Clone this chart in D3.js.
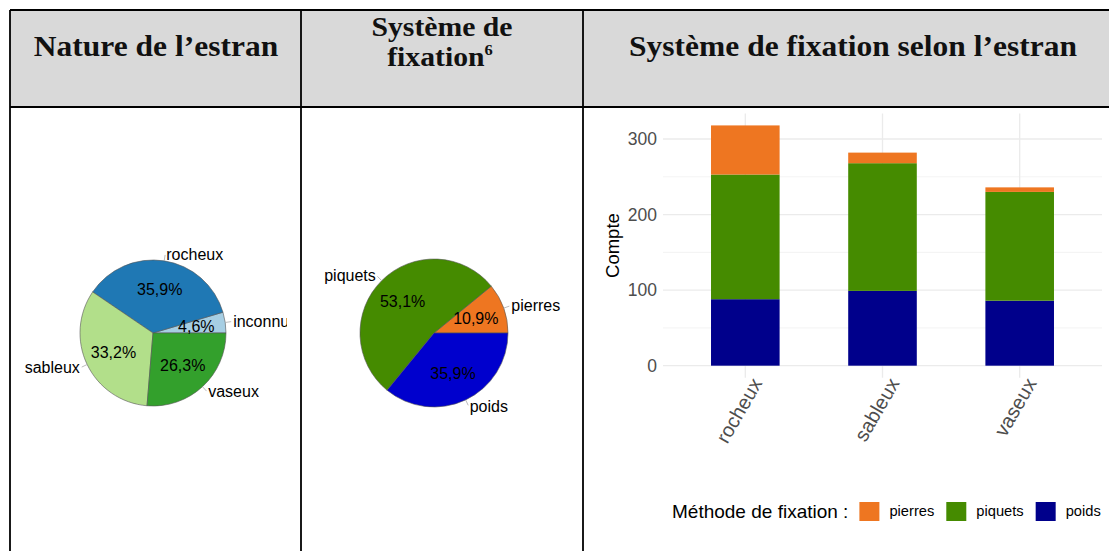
<!DOCTYPE html>
<html>
<head>
<meta charset="utf-8">
<script src="https://cdn.jsdelivr.net/npm/d3@7"></script>
<style>
  html, body { margin: 0; padding: 0; background: #ffffff; }
  svg { display: block; }
</style>
</head>
<body>
<svg id="chart" width="1109" height="551"></svg>
<script>
// ---------- data ----------
const headerTitles = ["Nature de l\u2019estran", "Syst\u00e8me de", "fixation", "Syst\u00e8me de fixation selon l\u2019estran"];
const estranCats = ["inconnu", "rocheux", "sableux", "vaseux"];
const estranPct = [4.6, 35.9, 33.2, 26.3];
const fixCats = ["pierres", "piquets", "poids"];
const fixPct = [10.9, 53.1, 35.9];
const barCats = ["rocheux", "sableux", "vaseux"];
const pierresCounts = [65, 14, 6];
const piquetsCounts = [165, 169, 144];
const poidsCounts = [88, 99, 86];
const yTicks = [0, 100, 200, 300];
const yMinorTicks = [50, 150, 250];
const legendTitle = "M\u00e9thode de fixation :";
const yTitle = "Compte";

// ---------- styles ----------
const estranColors = { inconnu: "#a6cee3", rocheux: "#1f78b4", sableux: "#b2df8a", vaseux: "#33a02c" };
const fixPieColors = { pierres: "#ee7621", piquets: "#458b00", poids: "#0000cd" };
const barColors = { pierres: "#ee7621", piquets: "#458b00", poids: "#00008b" };

const svg = d3.select("#chart");
const fr = d3.formatLocale({ decimal: ",", thousands: " ", grouping: [3], currency: ["", "\u20ac"] });
const pctFmt = v => fr.format(".1f")(v) + "%";

// ---------- table ----------
const tbl = svg.append("g");
tbl.append("rect").attr("x", 10).attr("y", 10).attr("width", 1099).attr("height", 97).attr("fill", "#d9d9d9");
const lines = [
  [10, 10, 1109, 10], [10, 107, 1109, 107],
  [10, 10, 10, 551], [301, 10, 301, 551], [583, 10, 583, 551]
];
tbl.selectAll("line").data(lines).join("line")
  .attr("x1", d => d[0]).attr("y1", d => d[1]).attr("x2", d => d[2]).attr("y2", d => d[3])
  .attr("stroke", "#000").attr("stroke-width", 1.8);

const hFont = "'Liberation Serif', 'Times New Roman', serif";
function hText(x, y, t, size, sx) {
  return tbl.append("text").attr("transform", `translate(${x},${y}) scale(${sx},1)`)
    .attr("text-anchor", "middle")
    .attr("font-family", hFont).attr("font-weight", "bold").attr("font-size", size)
    .attr("fill", "#111").text(t);
}
hText(156, 56, headerTitles[0], 30, 1.05);
hText(442, 36, headerTitles[1], 27, 1.1);
const fx = hText(440, 66, headerTitles[2], 27, 1.1);
fx.append("tspan").attr("font-size", 15).attr("dy", -11).text("6");
hText(853, 56, headerTitles[3], 30, 1.05);

// ---------- pies ----------
const labelFont = "'Liberation Sans', Arial, sans-serif";
function drawPie(cx, cy, r, cats, vals, colors, clipRight) {
  const g = svg.append("g").attr("transform", `translate(${cx},${cy})`);
  const data = cats.map((c, i) => ({ c, v: vals[i] }));
  const pie = d3.pie().sort(null).value(d => d.v)
    .startAngle(Math.PI / 2).endAngle(Math.PI / 2 - 2 * Math.PI);
  const arcs = pie(data);
  const arc = d3.arc().innerRadius(0).outerRadius(r);
  g.selectAll("path").data(arcs).join("path")
    .attr("d", arc).attr("fill", d => colors[d.data.c])
    .attr("stroke", "#555").attr("stroke-width", 0.6);
  const inner = d3.arc().innerRadius(r * 0.6).outerRadius(r * 0.6);
  g.selectAll("text.pct").data(arcs).join("text").attr("class", "pct")
    .attr("transform", d => `translate(${inner.centroid(d)})`)
    .attr("text-anchor", "middle").attr("dy", "0.35em")
    .attr("font-family", labelFont).attr("font-size", 16).attr("fill", "#000")
    .text(d => pctFmt(d.data.v));
  const lg = g.append("g");
  if (clipRight) {
    const id = "clip" + Math.round(cx);
    lg.append("clipPath").attr("id", id).append("rect")
      .attr("x", 10 - cx).attr("y", -cy).attr("width", clipRight - 10).attr("height", 551);
    lg.attr("clip-path", `url(#${id})`);
  }
  const mid = d => (d.startAngle + d.endAngle) / 2;
  lg.selectAll("line").data(arcs).join("line")
    .attr("x1", d => r * Math.sin(mid(d))).attr("y1", d => -r * Math.cos(mid(d)))
    .attr("x2", d => (r + 6) * Math.sin(mid(d))).attr("y2", d => -(r + 6) * Math.cos(mid(d)))
    .attr("stroke", "#aaa").attr("stroke-width", 0.8);
  lg.selectAll("text").data(arcs).join("text")
    .attr("x", d => (r + 7) * Math.sin(mid(d)) + (Math.sin(mid(d)) >= 0 ? 1 : -1))
    .attr("y", d => -(r + 7) * Math.cos(mid(d)))
    .attr("dy", "0.35em")
    .attr("text-anchor", d => Math.sin(mid(d)) >= 0 ? "start" : "end")
    .attr("font-family", labelFont).attr("font-size", 16).attr("fill", "#000")
    .text(d => d.data.c);
}
drawPie(153, 333, 73, estranCats, estranPct, estranColors, 287);
drawPie(434, 333, 74, fixCats, fixPct, fixPieColors, null);

// ---------- stacked bar chart ----------
const panel = { left: 663, right: 1102, top: 113.4, bottom: 377.7 };
const rows = barCats.map((c, i) => ({ cat: c, poids: poidsCounts[i], piquets: piquetsCounts[i], pierres: pierresCounts[i] }));
const totals = rows.map(r => r.poids + r.piquets + r.pierres);
const yMax = d3.max(totals);
const y = d3.scaleLinear().domain([-0.05 * yMax, 1.05 * yMax]).range([panel.bottom, panel.top]);
const x = d3.scalePoint().domain(barCats).range([panel.left, panel.right]).padding(0.6);
const bw = x.step() * 0.5;

const bc = svg.append("g");
// grid
bc.selectAll("line.minor").data(yMinorTicks).join("line").attr("class", "minor")
  .attr("x1", panel.left).attr("x2", panel.right).attr("y1", d => y(d)).attr("y2", d => y(d))
  .attr("stroke", "#f0f0f0").attr("stroke-width", 0.8);
bc.selectAll("line.major").data(yTicks).join("line").attr("class", "major")
  .attr("x1", panel.left).attr("x2", panel.right).attr("y1", d => y(d)).attr("y2", d => y(d))
  .attr("stroke", "#ebebeb").attr("stroke-width", 1.3);
bc.selectAll("line.vmajor").data(barCats).join("line").attr("class", "vmajor")
  .attr("x1", d => x(d)).attr("x2", d => x(d)).attr("y1", panel.top).attr("y2", panel.bottom)
  .attr("stroke", "#ebebeb").attr("stroke-width", 1.3);

const stack = d3.stack().keys(["poids", "piquets", "pierres"]);
const series = stack(rows);
bc.selectAll("g.series").data(series).join("g").attr("class", "series")
  .attr("fill", d => barColors[d.key])
  .selectAll("rect").data(d => d).join("rect")
  .attr("x", d => x(d.data.cat) - bw / 2).attr("width", bw)
  .attr("y", d => y(d[1])).attr("height", d => y(d[0]) - y(d[1]));

// y axis
const yAxis = bc.append("g").attr("transform", `translate(${panel.left},0)`)
  .call(d3.axisLeft(y).tickValues(yTicks).tickSize(0).tickPadding(6));
yAxis.select(".domain").remove();
yAxis.selectAll("text").attr("font-family", labelFont).attr("font-size", 17.5).attr("fill", "#4d4d4d");

// x axis
const xAxis = bc.append("g").attr("transform", `translate(0,${panel.bottom})`)
  .call(d3.axisBottom(x).tickSize(0));
xAxis.select(".domain").remove();
xAxis.selectAll("text")
  .attr("x", 0).attr("y", 0).attr("dy", "0.75em")
  .attr("transform", "translate(4,-2) rotate(-60)")
  .attr("text-anchor", "end")
  .attr("font-family", labelFont).attr("font-size", 20).attr("fill", "#4d4d4d");

// y title
bc.append("text").attr("transform", `translate(613,${(panel.top + panel.bottom) / 2}) rotate(-90)`)
  .attr("text-anchor", "middle").attr("dy", "0.35em")
  .attr("font-family", labelFont).attr("font-size", 18.5).attr("fill", "#000").text(yTitle);

// legend
const leg = bc.append("g");
const lt = leg.append("text").attr("x", 672).attr("y", 511).attr("dy", "0.35em")
  .attr("font-family", labelFont).attr("font-size", 19).attr("fill", "#000").text(legendTitle);
let lx = 672 + lt.node().getComputedTextLength() + 11;
fixCats.forEach(c => {
  leg.append("rect").attr("x", lx).attr("y", 502).attr("width", 20).attr("height", 19).attr("fill", barColors[c]);
  const t = leg.append("text").attr("x", lx + 30).attr("y", 511).attr("dy", "0.35em")
    .attr("font-family", labelFont).attr("font-size", 14.7).attr("fill", "#000").text(c);
  lx = lx + 30 + t.node().getComputedTextLength() + 12;
});
</script>
</body>
</html>
